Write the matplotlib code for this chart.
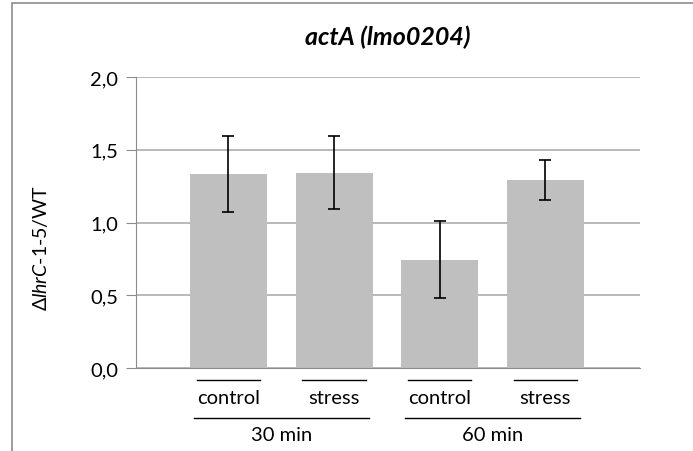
import matplotlib
matplotlib.use("Agg")
import matplotlib.pyplot as plt
from matplotlib.patches import Rectangle

# data
conditions = ["control", "stress", "control", "stress"]
times = ["30 min", "60 min"]
ratio = [1.335, 1.342, 0.745, 1.292]
err = [0.260, 0.252, 0.265, 0.137]
yticks = [0.0, 0.5, 1.0, 1.5, 2.0]

plt.rcParams['font.family'] = ['Lato', 'DejaVu Sans']
plt.rcParams['mathtext.fontset'] = 'custom'
plt.rcParams['mathtext.rm'] = 'Lato'
plt.rcParams['mathtext.it'] = 'Lato:italic'

fig = plt.figure(figsize=(6.93, 4.52), dpi=100)
# outer chart border (top/left visible)
fig.patches.append(Rectangle((12 / 693, -0.1), 1.2, (452 - 4) / 452 + 0.1,
                             transform=fig.transFigure, fill=False,
                             edgecolor="#8c8c8c", lw=1.2))

ax = fig.add_axes([136 / 693, (452 - 369) / 452, 504 / 693, 291 / 452])
x = list(range(len(ratio)))
ax.bar(x, ratio, width=0.73, color="#bfbfbf", zorder=2)
ax.errorbar(x, ratio, yerr=err, fmt="none", ecolor="black", elinewidth=1.2,
            capsize=4, capthick=1.2, zorder=3)

ax.set_xlim(-0.875, 3.895)
ax.set_ylim(0, 2.0)
ax.set_yticks(yticks)
ax.set_yticklabels([f"{v:.1f}".replace(".", ",") for v in yticks], fontsize=14.5)
ax.set_xticks([])
ax.grid(axis="y", color="#b3b3b3", lw=1.3, zorder=0)
for s in ["top", "right"]:
    ax.spines[s].set_visible(False)
ax.spines["left"].set_color("#8c8c8c")
ax.spines["bottom"].set_color("#8c8c8c")
ax.spines["bottom"].set_zorder(4)
ax.tick_params(axis="y", length=7, color="#8c8c8c", pad=6)

ax.set_title("actA (lmo0204)", fontsize=18, fontweight="bold", style="italic", pad=24)

fig.text(40 / 693, 1 - 248 / 452, "Δ$\\mathit{lhrC}$-$\\mathit{1}$-$\\mathit{5}$/WT",
         rotation=90, ha="center", va="center", fontsize=14)

# two-level category labels
tr = ax.get_xaxis_transform()
for i, lab in enumerate(conditions):
    ax.plot([i - 0.3, i + 0.3], [-0.041, -0.041], color="black", lw=1,
            transform=tr, clip_on=False)
    ax.text(i, -0.1, lab, transform=tr, ha="center", va="center", fontsize=14.5)
for g, lab in enumerate(times):
    a, b = 2 * g, 2 * g + 1
    ax.plot([a - 0.33, b + 0.33], [-0.172, -0.172], color="black", lw=1,
            transform=tr, clip_on=False)
    ax.text((a + b) / 2, -0.227, lab, transform=tr, ha="center", va="center", fontsize=14.5)

fig.savefig("out.png", dpi=100)
